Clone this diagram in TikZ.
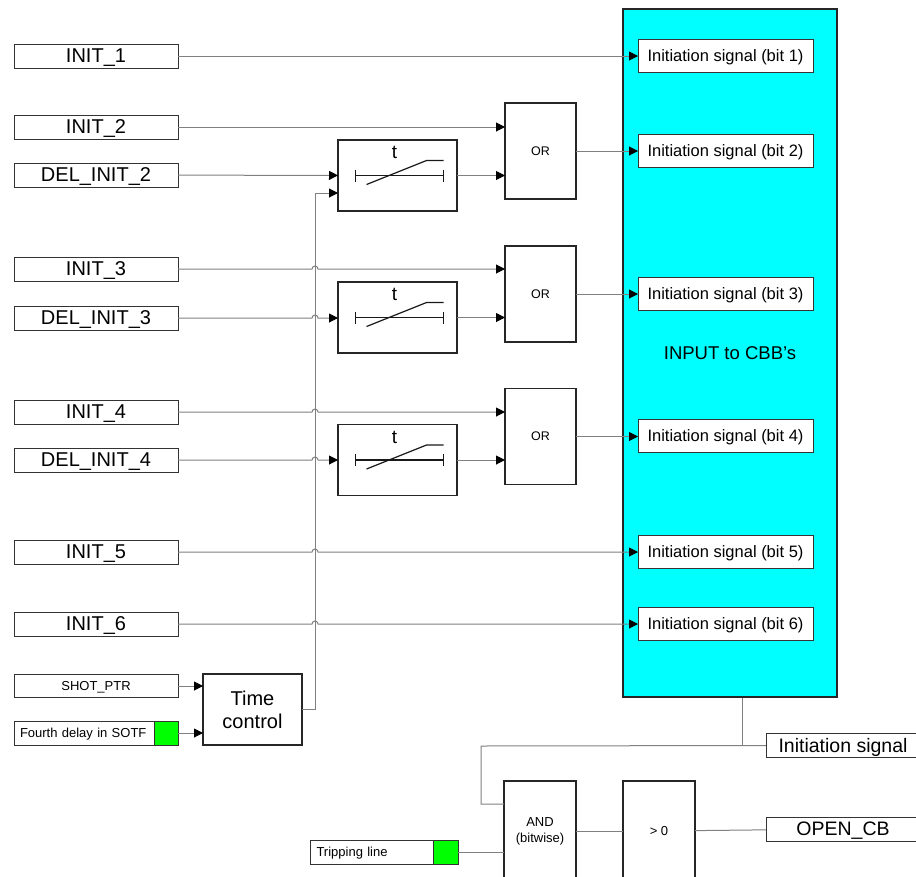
\documentclass[tikz,border=0pt]{standalone}
\usepackage{fontspec}
\setmainfont{Liberation Sans}
\usetikzlibrary{arrows.meta,calc}
\definecolor{cbbcyan}{RGB}{0,255,255}
\definecolor{ledgreen}{RGB}{0,255,0}
\tikzset{
  sigbox/.style={draw=black!80, fill=white, line width=1pt, inner sep=0pt, outer sep=0pt, minimum width=164pt, minimum height=24pt, text height=13.8pt, text depth=0pt, font=\fontsize{20}{22}\selectfont},
  smallbox/.style={sigbox, minimum height=23pt, text height=9pt, font=\fontsize{13}{15}\selectfont},
  bitbox/.style={sigbox, minimum width=175pt, minimum height=33pt, text height=11.4pt, font=\fontsize{16.5}{18}\selectfont},
  outbox/.style={sigbox, minimum width=154pt, minimum height=24pt, text height=13.4pt, font=\fontsize{19.5}{22}\selectfont},
  ledbox/.style={draw=black!80, fill=ledgreen, line width=1pt, inner sep=0pt, outer sep=0pt, minimum width=24pt, minimum height=24pt},
  timerbox/.style={draw=black!85, fill=white, line width=1.2pt, inner sep=0pt, outer sep=0pt, minimum width=119pt, minimum height=71pt},
  gatebox/.style={draw=black!85, fill=white, line width=1.2pt, inner sep=0pt, outer sep=0pt, minimum width=71pt, minimum height=96pt, align=center, font=\fontsize{12.5}{15}\selectfont},
  cbbbox/.style={draw=black!85, fill=cbbcyan, line width=1.2pt, inner sep=0pt, minimum width=214pt, minimum height=688pt, font=\fontsize{18.5}{21}\selectfont},
  symline/.style={black!90, line width=1.2pt},
  wire/.style={draw=black!50, line width=1pt},
  arr/.style={wire, -{Triangle[length=9pt,width=9pt,color=black]}},
}
\begin{document}
\begin{tikzpicture}[x=1pt,y=-1pt]
  \useasboundingbox (0,0) rectangle (916,876);

  % CBB input block
  \node[cbbbox] (cbb) at (730,353) {INPUT to CBB’s};
  \node[bitbox] (bit1) at (725.5,56)  {Initiation signal (bit 1)};
  \node[bitbox] (bit2) at (725.5,151) {Initiation signal (bit 2)};
  \node[bitbox] (bit3) at (725.5,294) {Initiation signal (bit 3)};
  \node[bitbox] (bit4) at (725.5,436) {Initiation signal (bit 4)};
  \node[bitbox] (bit5) at (725.5,552) {Initiation signal (bit 5)};
  \node[bitbox] (bit6) at (725.5,624) {Initiation signal (bit 6)};

  % inputs
  \node[sigbox] (init1)    at (96,56)  {INIT\_1};
  \node[sigbox] (init2)    at (96,127) {INIT\_2};
  \node[sigbox] (delinit2) at (96,175) {DEL\_INIT\_2};
  \node[sigbox] (init3)    at (96,269) {INIT\_3};
  \node[sigbox] (delinit3) at (96,318) {DEL\_INIT\_3};
  \node[sigbox] (init4)    at (96,412) {INIT\_4};
  \node[sigbox] (delinit4) at (96,460) {DEL\_INIT\_4};
  \node[sigbox] (init5)    at (96,552) {INIT\_5};
  \node[sigbox] (init6)    at (96,624) {INIT\_6};
  \node[smallbox] (shotptr) at (96,686) {SHOT\_PTR};
  \node[smallbox, minimum height=24pt, text width=152pt, inner xsep=6pt, align=left] (fourth) at (96,733) {Fourth delay in SOTF};
  \node[ledbox] (fourthled) at (166,733) {};

  % timers and OR gates
  \node[timerbox] (tm2) at (397.5,175.5) {};
  \node[timerbox] (tm3) at (397.5,317.5) {};
  \node[timerbox] (tm4) at (397.5,460) {};
  \node[gatebox] (or2) at (540.5,151) {OR};
  \node[gatebox] (or3) at (540.5,294) {OR};
  \node[gatebox] (or4) at (540.5,436.5) {OR};
  \node[gatebox, minimum width=99pt, minimum height=71pt, font=\fontsize{20}{23}\selectfont] (tctrl) at (252.5,709.5) {Time\\control};

  \foreach \t in {tm2,tm3,tm4}{
    \draw[symline] ($(\t)+(-42,0)$) -- ($(\t)+(46,0)$);
    \draw[symline] ($(\t)+(-42,-6)$) -- ($(\t)+(-42,6)$);
    \draw[symline] ($(\t)+(46,-6)$) -- ($(\t)+(46,6)$);
    \draw[symline] ($(\t)+(-31,9)$) -- ($(\t)+(29,-15)$) -- ($(\t)+(46,-15)$);
    \node[font=\fontsize{19}{21}\selectfont] (\t-t) at ($(\t)+(-3,-23)$) {t};
  }

  % bottom part
  \node[outbox] (initsig) at (843,745.5) {Initiation signal};
  \node[gatebox, minimum width=72pt, minimum height=100pt, font=\fontsize{13}{16}\selectfont] (andg) at (540,831) {AND\\(bitwise)};
  \node[gatebox, minimum width=72pt, minimum height=100pt, font=\fontsize{13}{16}\selectfont] (gtz) at (659,831) {> 0};
  \node[outbox] (opencb) at (843,829) {OPEN\_CB};
  \node[smallbox, minimum width=148pt, minimum height=24pt, text width=135pt, inner xsep=6.5pt, align=left] (trip) at (384,852) {Tripping line};
  \node[ledbox, minimum width=25pt] (tripled) at (445.5,852) {};

  % connections
  \coordinate (bus) at (315,193);
  \coordinate (tap) at (742,746);
  \coordinate (corner) at (481,746);

  \draw[arr] (init1) -- (bit1);
  \draw[arr] (init2.east) -- (init2.east -| or2.west);
  \draw[arr] (delinit2) -- (tm2);
  \draw[arr] (tctrl.east) -- (tctrl.east -| bus) -- (bus) -- (bus -| tm2.west);
  \foreach \s/\d in {init3/or3,delinit3/tm3,init4/or4,delinit4/tm4,init5/bit5,init6/bit6}
    \draw[arr] (\s.east) -- ($(\s.east -| bus)+(-3,0)$) arc[start angle=180,end angle=0,radius=3pt] -- (\s.east -| \d.west);
  \foreach \a/\b in {tm2/or2,tm3/or3,tm4/or4}
    \draw[arr] (\a.east) -- (\a.east -| \b.west);
  \foreach \a/\b in {or2/bit2,or3/bit3,or4/bit4}
    \draw[arr] (\a) -- (\a -| \b.west);
  \draw[arr] (shotptr) -- (shotptr -| tctrl.west);
  \draw[arr] (fourthled) -- (fourthled -| tctrl.west);

  \draw[wire] (cbb.south -| tap) -- (tap);
  \draw[wire] (initsig.west) -- (corner) |- ($(andg.west)+(0,-27)$);
  \draw[wire] (tripled) -- (tripled -| andg.west);
  \draw[wire] (andg) -- (gtz);
  \draw[wire] (gtz) -- (opencb);
\end{tikzpicture}
\end{document}
